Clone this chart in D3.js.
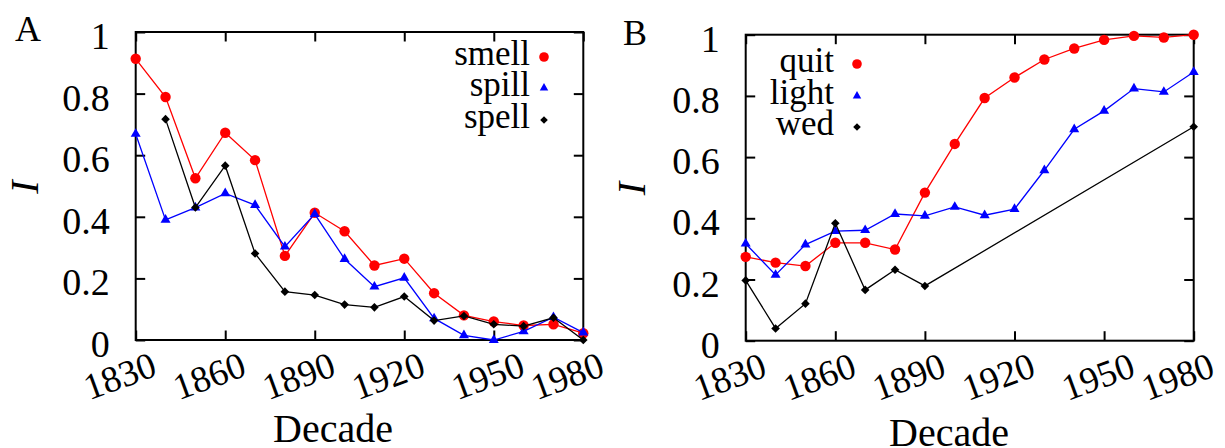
<!DOCTYPE html>
<html>
<head>
<meta charset="utf-8">
<script src="https://cdn.jsdelivr.net/npm/d3@7"></script>
<style>
  html, body { margin: 0; padding: 0; background: #fff; }
  svg { display: block; font-family: "Liberation Serif", "DejaVu Serif", serif; }
</style>
</head>
<body>
<svg id="chart" width="1225" height="448"></svg>
<script>
// Decades on the x axis
const decades = [1830, 1840, 1850, 1860, 1870, 1880, 1890, 1900, 1910, 1920, 1930, 1940, 1950, 1960, 1970, 1980];

// Panel A
const smell = [0.913, 0.789, 0.525, 0.673, 0.584, 0.273, 0.413, 0.353, 0.242, 0.264, 0.152, 0.080, 0.060, 0.047, 0.051, 0.022];
const spill = [0.669, 0.390, 0.430, 0.476, 0.438, 0.303, 0.409, 0.263, 0.173, 0.202, 0.070, 0.015, 0.000, 0.028, 0.074, 0.024];
const spell = [null, 0.717, 0.430, 0.566, 0.281, 0.157, 0.146, 0.115, 0.106, 0.141, 0.063, 0.078, 0.051, 0.045, 0.072, 0.000];

// Panel B
const quit = [0.274, 0.255, 0.244, 0.320, 0.320, 0.298, 0.484, 0.643, 0.793, 0.860, 0.919, 0.955, 0.983, 0.996, 0.991, 1.000];
const light = [0.317, 0.215, 0.314, 0.358, 0.361, 0.414, 0.408, 0.437, 0.410, 0.430, 0.557, 0.691, 0.751, 0.824, 0.813, 0.878];
const wedDecades = [1830, 1840, 1850, 1860, 1870, 1880, 1890, 1980];
const wed = [0.197, 0.040, 0.121, 0.384, 0.166, 0.232, 0.179, 0.699];

// Ticks
const xTicks = [1830, 1860, 1890, 1920, 1950, 1980];
const yTicks = [0, 0.2, 0.4, 0.6, 0.8, 1];

const svg = d3.select('#chart');

// marker shapes
const markerPath = (shape, s) => {
  if (shape === 'circle') return d3.symbol(d3.symbolCircle, Math.PI * s * s)();
  if (shape === 'triangle') return d3.symbol(d3.symbolTriangle, (Math.sqrt(3) / 4) * s * s)();
  // diamond: square turned 45 degrees, s = half diagonal
  return `M0,${-s}L${s},0L0,${s}L${-s},0Z`;
};

const panels = [
  {
    letter: 'A', left: 135.7, right: 583.3, top: 32, bottom: 340,
    letterPos: [15, 41], yLabelX: 38, decadeX: 333, decadeY: 442,
    legendX: 530, legendMarkX: 544, legendY: [65, 96, 128],
    series: [
      { name: 'smell', x: decades, y: smell, color: '#ff0000', shape: 'circle' },
      { name: 'spill', x: decades, y: spill, color: '#0000ff', shape: 'triangle' },
      { name: 'spell', x: decades, y: spell, color: '#000000', shape: 'diamond' },
    ],
  },
  {
    letter: 'B', left: 745.7, right: 1193.7, top: 34.7, bottom: 340.7,
    letterPos: [623, 45], yLabelX: 645, decadeX: 949, decadeY: 446,
    legendX: 834, legendMarkX: 857, legendY: [72, 104, 135],
    series: [
      { name: 'quit', x: decades, y: quit, color: '#ff0000', shape: 'circle' },
      { name: 'light', x: decades, y: light, color: '#0000ff', shape: 'triangle' },
      { name: 'wed', x: wedDecades, y: wed, color: '#000000', shape: 'diamond' },
    ],
  },
];

const plotSize = { circle: 5.2, triangle: 10, diamond: 4.3 };
const keySize = { circle: 4.8, triangle: 8.5, diamond: 3.8 };
const tickLen = 9.5;

panels.forEach((p) => {
  const x = d3.scaleLinear().domain([1830, 1980]).range([p.left, p.right]);
  const y = d3.scaleLinear().domain([0, 1]).range([p.bottom, p.top]);
  const g = svg.append('g');

  // inward ticks on all four sides
  const axes = [
    { axis: d3.axisBottom(x), at: `translate(0,${p.bottom})` },
    { axis: d3.axisTop(x), at: `translate(0,${p.top})` },
    { axis: d3.axisLeft(y), at: `translate(${p.left},0)` },
    { axis: d3.axisRight(y), at: `translate(${p.right},0)` },
  ];
  axes.forEach((a, i) => {
    const ax = a.axis.tickSizeInner(-tickLen).tickSizeOuter(0).tickFormat('');
    if (i < 2) ax.tickValues(xTicks); else ax.tickValues(yTicks);
    const sel = g.append('g').attr('transform', a.at).call(ax);
    sel.select('.domain').remove();
    sel.selectAll('line').attr('stroke', '#000').attr('stroke-width', 2);
  });

  // frame
  g.append('rect')
    .attr('x', p.left).attr('y', p.top)
    .attr('width', p.right - p.left).attr('height', p.bottom - p.top)
    .attr('fill', 'none').attr('stroke', '#000').attr('stroke-width', 2);

  // y tick labels
  g.selectAll('.ylab').data(yTicks).enter().append('text')
    .attr('x', p.left - 26)
    .attr('y', (d) => y(d) + 17)
    .attr('text-anchor', 'end')
    .attr('font-size', 38)
    .text((d) => d3.format('~g')(d));

  // x tick labels, rotated
  g.selectAll('.xlab').data(xTicks).enter().append('text')
    .attr('transform', (d) => `translate(${x(d) + 23 + (d === 1950 ? 10 : 0)},${p.bottom + 35}) rotate(-20)`)
    .attr('text-anchor', 'end')
    .attr('font-size', 37)
    .text((d) => d);

  // axis titles
  g.append('text')
    .attr('x', p.decadeX).attr('y', p.decadeY)
    .attr('text-anchor', 'middle')
    .attr('font-size', 40)
    .text('Decade');

  g.append('text')
    .attr('transform', `translate(${p.yLabelX},${(p.top + p.bottom) / 2 + 1}) rotate(-90)`)
    .attr('text-anchor', 'middle')
    .attr('font-size', 40)
    .attr('font-style', 'italic')
    .text('I');

  g.append('text')
    .attr('x', p.letterPos[0]).attr('y', p.letterPos[1])
    .attr('font-size', 36)
    .text(p.letter);

  // series
  p.series.forEach((s, k) => {
    const pts = s.x.map((d, i) => [d, s.y[i]]).filter((d) => d[1] !== null);
    const line = d3.line().x((d) => x(d[0])).y((d) => y(d[1]));
    g.append('path')
      .datum(pts)
      .attr('d', line)
      .attr('fill', 'none')
      .attr('stroke', s.color)
      .attr('stroke-width', 1.3);

    g.selectAll(`.m${k}`).data(pts).enter().append('path')
      .attr('transform', (d) => `translate(${x(d[0])},${y(d[1])})`)
      .attr('d', markerPath(s.shape, plotSize[s.shape]))
      .attr('fill', s.color);

    // key
    g.append('text')
      .attr('x', p.legendX).attr('y', p.legendY[k])
      .attr('text-anchor', 'end')
      .attr('font-size', 35)
      .text(s.name);
    g.append('path')
      .attr('transform', `translate(${p.legendMarkX},${p.legendY[k] - 8})`)
      .attr('d', markerPath(s.shape, keySize[s.shape]))
      .attr('fill', s.color);
  });
});
</script>
</body>
</html>
